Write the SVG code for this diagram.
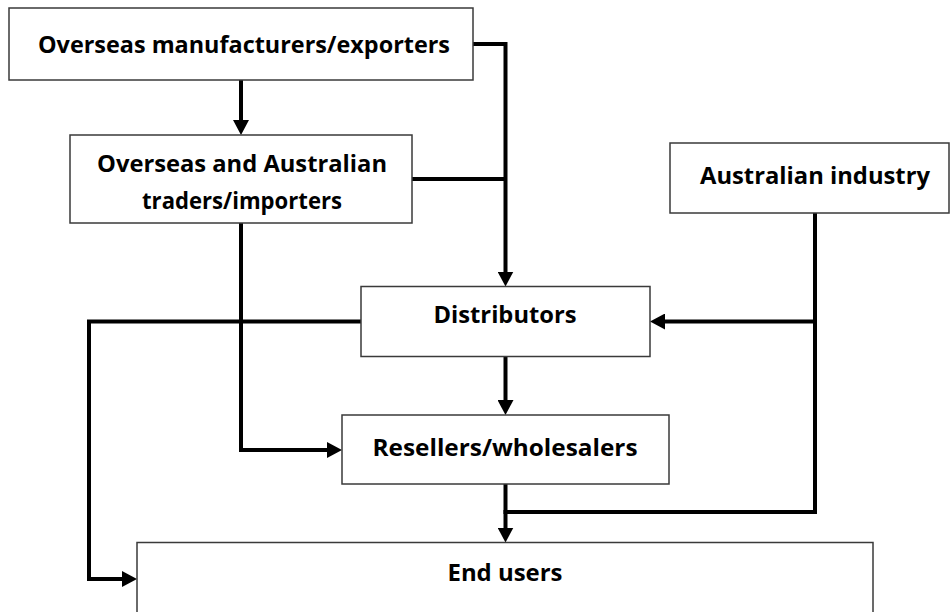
<svg xmlns="http://www.w3.org/2000/svg" width="950" height="612" viewBox="0 0 950 612">
  <defs>
    <style>
      .box { fill: #ffffff; stroke: #3a3a3a; stroke-width: 1.5; }
      .label { font-family: "Open Sans", Lato, "Liberation Sans", sans-serif; font-weight: bold; font-size: 23.5px; fill: #000000; text-anchor: middle; }
      .link { fill: none; stroke: #000000; stroke-width: 4; stroke-linejoin: miter; stroke-linecap: butt; }
    </style>
    <marker id="arrow" markerUnits="userSpaceOnUse" markerWidth="16" markerHeight="16" refX="7" refY="8" orient="auto">
      <path d="M0,0 L15,8 L0,16 z" fill="#000000"/>
    </marker>
  </defs>

  <rect width="950" height="612" fill="#ffffff"/>

  <!-- connectors -->
  <g id="connectors">
    <path class="link" d="M241,80 V127" marker-end="url(#arrow)"/>
    <path class="link" d="M473,44 H505.5 V278.5" marker-end="url(#arrow)"/>
    <path class="link" d="M412,179 H505.5"/>
    <path class="link" d="M815,213 V512 H503.5"/>
    <path class="link" d="M815,321.5 H658" marker-end="url(#arrow)"/>
    <path class="link" d="M361,321.5 H89 V579 H129" marker-end="url(#arrow)"/>
    <path class="link" d="M241,223 V450 H334" marker-end="url(#arrow)"/>
    <path class="link" d="M505.5,357 V407" marker-end="url(#arrow)"/>
    <path class="link" d="M505.5,484 V534.5" marker-end="url(#arrow)"/>
  </g>

  <!-- nodes -->
  <g id="overseas-manufacturers">
    <rect class="box" x="9" y="8" width="464" height="72"/>
    <text class="label" x="244" y="53" textLength="412" lengthAdjust="spacingAndGlyphs">Overseas manufacturers/exporters</text>
  </g>

  <g id="traders-importers">
    <rect class="box" x="70" y="135" width="342" height="88"/>
    <text class="label" x="242" y="172" textLength="290" lengthAdjust="spacingAndGlyphs">Overseas and Australian</text>
    <text class="label" x="242" y="209" textLength="200" lengthAdjust="spacingAndGlyphs">traders/importers</text>
  </g>

  <g id="australian-industry">
    <rect class="box" x="670" y="143" width="279" height="70"/>
    <text class="label" x="815" y="184" textLength="230" lengthAdjust="spacingAndGlyphs">Australian industry</text>
  </g>

  <g id="distributors">
    <rect class="box" x="361" y="286.5" width="289" height="70"/>
    <text class="label" x="505" y="323" textLength="143" lengthAdjust="spacingAndGlyphs">Distributors</text>
  </g>

  <g id="resellers-wholesalers">
    <rect class="box" x="342" y="415" width="327" height="69"/>
    <text class="label" x="505" y="456" textLength="265" lengthAdjust="spacingAndGlyphs">Resellers/wholesalers</text>
  </g>

  <g id="end-users">
    <rect class="box" x="137" y="542.5" width="736" height="90"/>
    <text class="label" x="505" y="581" textLength="115" lengthAdjust="spacingAndGlyphs">End users</text>
  </g>
</svg>
